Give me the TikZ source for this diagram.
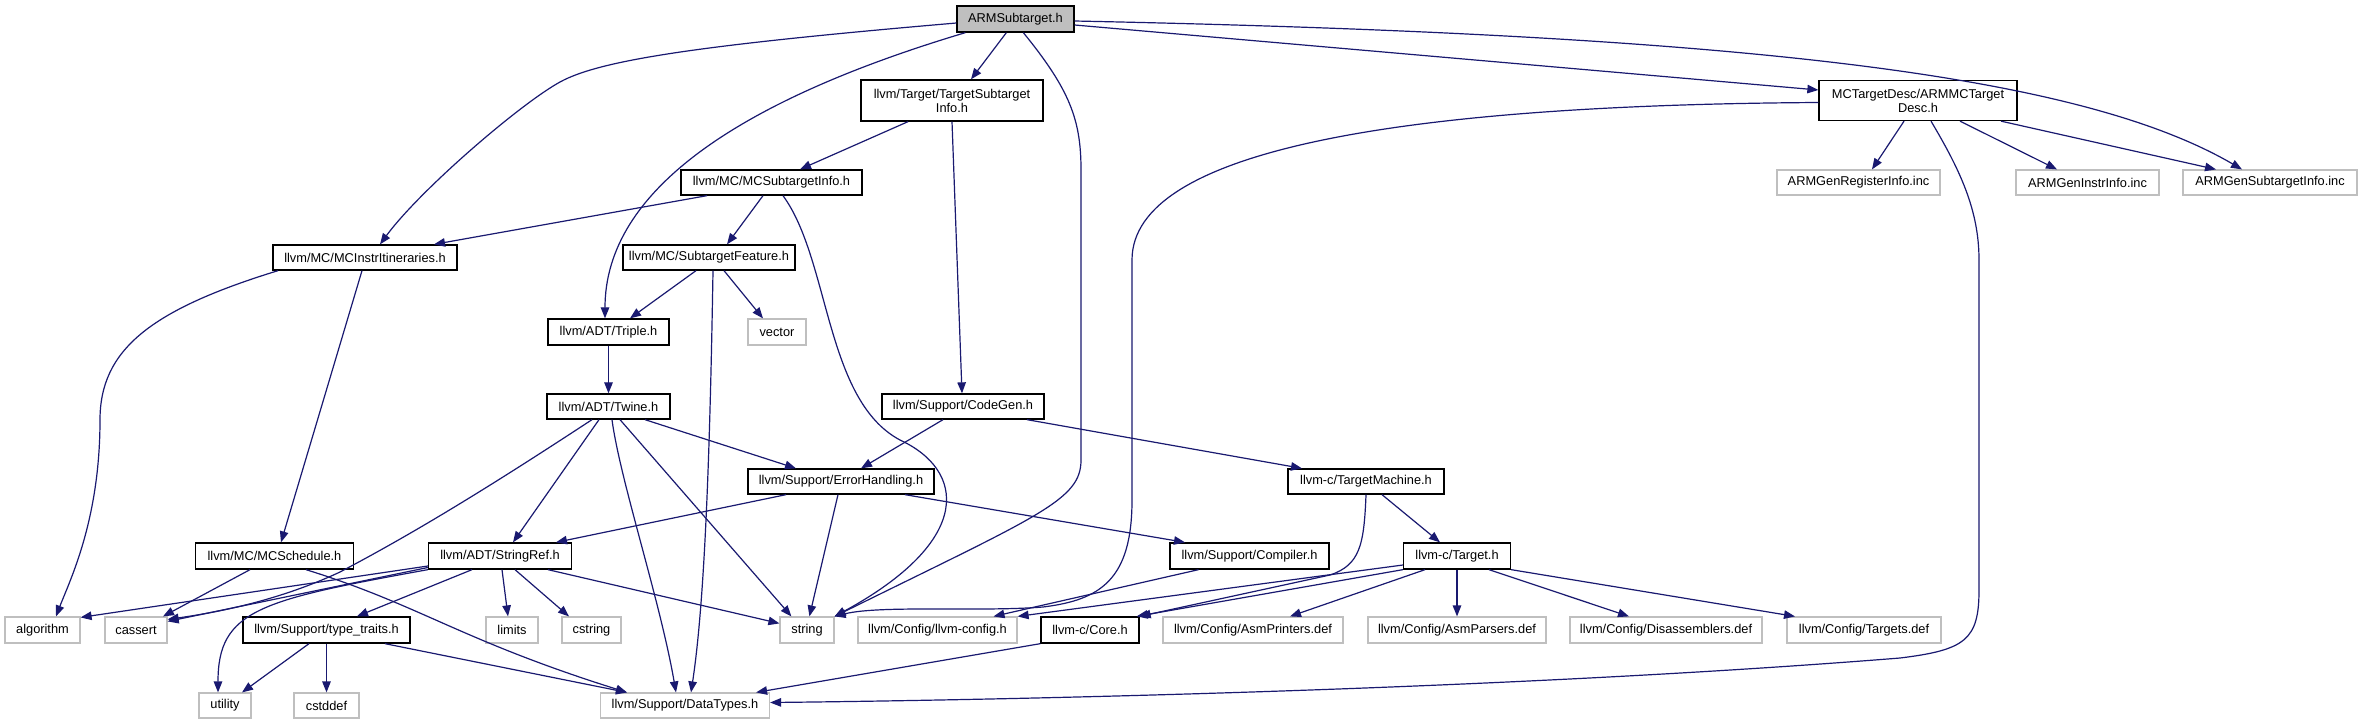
\documentclass[tikz,border=0pt]{standalone}
\usepackage{fontspec}
\setmainfont{Liberation Sans}
\usetikzlibrary{arrows.meta}
\definecolor{edgecol}{HTML}{191970}
\definecolor{sysgray}{HTML}{BFBFBF}
\begin{document}
\begin{tikzpicture}[x=1pt,y=-1pt,
  filebox/.style={draw=black, line width=1.3pt, rectangle, inner sep=0pt, minimum height=25pt, font=\fontsize{12.8}{14}\selectfont, align=center},
  sysfile/.style={filebox, draw=sysgray, line width=1.2pt},
  mainfile/.style={filebox, fill=sysgray},
  dep/.style={draw=edgecol, line width=1.2pt, -{Triangle[length=11pt,width=8.5pt]}}
]
\fill[white] (0,0) rectangle (2363,724);
\useasboundingbox (0,0) rectangle (2363,724);

% row 0
\node[mainfile, minimum width=117pt, minimum height=26pt] (arm) at (1015.5,19) {ARMSubtarget.h};
% row 1
\node[filebox, minimum width=182pt, minimum height=41pt] (tsi) at (952,100.5) {llvm/Target/TargetSubtarget\\Info.h};
\node[filebox, minimum width=198pt, minimum height=40pt] (mcd) at (1918,100.5) {MCTargetDesc/ARMMCTarget\\Desc.h};
% row 2
\node[filebox, minimum width=181pt] (mcsi) at (771.5,182.5) {llvm/MC/MCSubtargetInfo.h};
\node[sysfile, minimum width=163pt] (reg) at (1858.5,182.5) {ARMGenRegisterInfo.inc};
\node[sysfile, minimum width=143pt] (instr) at (2087.5,182.5) {ARMGenInstrInfo.inc};
\node[sysfile, minimum width=174pt] (gsub) at (2270,182.5) {ARMGenSubtargetInfo.inc};
% row 3
\node[filebox, minimum width=184pt] (itin) at (365,257.5) {llvm/MC/MCInstrItineraries.h};
\node[filebox, minimum width=172pt] (feat) at (709,257.5) {llvm/MC/SubtargetFeature.h};
% row 4
\node[filebox, minimum width=121pt, minimum height=26pt] (triple) at (608.5,332) {llvm/ADT/Triple.h};
\node[sysfile, minimum width=58pt, minimum height=26pt] (vector) at (777,332) {vector};
% row 5
\node[filebox, minimum width=123pt] (twine) at (608.5,406.5) {llvm/ADT/Twine.h};
\node[filebox, minimum width=162pt] (codegen) at (963,406.5) {llvm/Support/CodeGen.h};
% row 6
\node[filebox, minimum width=186pt] (err) at (841,481.5) {llvm/Support/ErrorHandling.h};
\node[filebox, minimum width=156pt] (tm) at (1366,481.5) {llvm-c/TargetMachine.h};
% row 7
\node[filebox, minimum width=158pt, minimum height=26pt] (sched) at (274.5,556) {llvm/MC/MCSchedule.h};
\node[filebox, minimum width=143pt, minimum height=26pt] (sref) at (500,556) {llvm/ADT/StringRef.h};
\node[filebox, minimum width=159pt, minimum height=26pt] (comp) at (1249.5,556) {llvm/Support/Compiler.h};
\node[filebox, minimum width=107pt, minimum height=26pt] (target) at (1457,556) {llvm-c/Target.h};
% row 8
\node[sysfile, minimum width=75pt, minimum height=26pt] (algorithm) at (42.5,630) {algorithm};
\node[sysfile, minimum width=62pt, minimum height=26pt] (cassert) at (136,630) {cassert};
\node[filebox, minimum width=167pt, minimum height=26pt] (tt) at (326.5,630) {llvm/Support/type\_traits.h};
\node[sysfile, minimum width=52pt, minimum height=26pt] (limits) at (512,630) {limits};
\node[sysfile, minimum width=59pt, minimum height=26pt] (cstring) at (591.5,630) {cstring};
\node[sysfile, minimum width=54pt, minimum height=26pt] (string) at (807,630) {string};
\node[sysfile, minimum width=159pt, minimum height=26pt] (cfg) at (937.5,630) {llvm/Config/llvm-config.h};
\node[filebox, minimum width=98pt, minimum height=26pt] (core) at (1090,630) {llvm-c/Core.h};
\node[sysfile, minimum width=180pt, minimum height=26pt] (asmp) at (1253,630) {llvm/Config/AsmPrinters.def};
\node[sysfile, minimum width=178pt, minimum height=26pt] (asmpa) at (1457,630) {llvm/Config/AsmParsers.def};
\node[sysfile, minimum width=192pt, minimum height=26pt] (dis) at (1666,630) {llvm/Config/Disassemblers.def};
\node[sysfile, minimum width=154pt, minimum height=26pt] (tdef) at (1864,630) {llvm/Config/Targets.def};
% row 9
\node[sysfile, minimum width=52pt] (utility) at (225,705.5) {utility};
\node[sysfile, minimum width=65pt] (cstddef) at (326.5,705.5) {cstddef};
\node[sysfile, minimum width=169pt] (dt) at (685,705.5) {llvm/Support/DataTypes.h};

% edges from ARMSubtarget.h
\draw[dep] ([yshift=-4pt]arm.west) .. controls (700,45) and (600,60) .. (560,82) .. controls (520,104) and (420,190) .. ([xshift=15pt]itin.north);
\draw[dep] ([xshift=9pt]arm.south west) .. controls (740,100) and (605,190) .. ([xshift=-3.5pt]triple.north);
\draw[dep] ([xshift=50pt]arm.south west) -- ([xshift=19pt]tsi.north);
\draw[dep] ([xshift=67pt]arm.south west) .. controls (1070,90) and (1081,120) .. (1081,170) -- (1081,460) .. controls (1081,500) and (1040,515) .. (string.north east);
\draw[dep] ([yshift=-6pt]arm.east) -- ([yshift=10.5pt]mcd.west);
\draw[dep] ([yshift=-2pt]arm.east) .. controls (1750,35) and (2080,75) .. ([xshift=-28pt]gsub.north);

% TargetSubtargetInfo.h
\draw[dep] ([xshift=-44pt]tsi.south) -- ([xshift=28.5pt]mcsi.north);
\draw[dep] (tsi.south) -- ([xshift=-1pt]codegen.north);

% MCTargetDesc
\draw[dep] ([xshift=-14pt]mcd.south) -- ([xshift=13.5pt]reg.north);
\draw[dep] ([xshift=42pt]mcd.south) -- ([xshift=-30.5pt]instr.north);
\draw[dep] ([xshift=83pt]mcd.south) -- ([xshift=-54pt]gsub.north);
\draw[dep] ([xshift=13pt]mcd.south) .. controls (1960,170) and (1979,210) .. (1979,260) -- (1979,590) .. controls (1979,640) and (1965,650) .. (1900,658) .. controls (1500,690) and (1000,700) .. ([yshift=3pt]dt.east);
\draw[dep] ([yshift=-2pt]mcd.west) .. controls (1400,105) and (1132,150) .. (1132,260) -- (1132,500) .. controls (1132,580) and (1100,600) .. (1043,607) .. controls (980,612) and (880,605) .. (string.north east);

% MCSubtargetInfo.h
\draw[dep] ([xshift=-64.5pt]mcsi.south) -- ([xshift=69pt]itin.north);
\draw[dep] ([xshift=-8.5pt]mcsi.south) -- ([xshift=18pt]feat.north);
\draw[dep] ([xshift=11.5pt]mcsi.south) .. controls (830,260) and (825,400) .. (900,440) .. controls (965,470) and (975,540) .. (string.north east);

% MCInstrItineraries.h
\draw[dep] ([xshift=-87pt]itin.south) .. controls (150,310) and (100,350) .. (100,420) .. controls (100,520) and (70,580) .. ([xshift=13.5pt]algorithm.north);
\draw[dep] ([xshift=-3pt]itin.south) -- ([xshift=6.5pt]sched.north);

% SubtargetFeature.h
\draw[dep] ([xshift=-13pt]feat.south) -- ([xshift=21.5pt]triple.north);
\draw[dep] ([xshift=15pt]feat.south) -- ([xshift=-14pt]vector.north);
\draw[dep] ([xshift=4pt]feat.south) .. controls (710,450) and (705,600) .. ([xshift=6pt]dt.north);

% Triple.h / Twine.h
\draw[dep] (triple.south) -- (twine.north);
\draw[dep] ([xshift=36.5pt]twine.south) -- ([xshift=-45pt]err.north);
\draw[dep] ([xshift=-16.5pt]twine.south) .. controls (500,480) and (420,530) .. (340,572) .. controls (280,600) and (220,612) .. ([yshift=-3pt]cassert.north east);
\draw[dep] ([xshift=-9.5pt]twine.south) -- ([xshift=13pt]sref.north);
\draw[dep] ([xshift=3.5pt]twine.south) .. controls (620,480) and (660,600) .. ([xshift=-9pt]dt.north);
\draw[dep] ([xshift=11.5pt]twine.south) -- ([xshift=12pt]string.north west);

% CodeGen.h
\draw[dep] ([xshift=-20pt]codegen.south) -- ([xshift=20pt]err.north);
\draw[dep] ([xshift=64pt]codegen.south) -- ([xshift=-64pt]tm.north);

% ErrorHandling.h
\draw[dep] ([xshift=-55pt]err.south) -- ([xshift=56pt]sref.north);
\draw[dep] ([xshift=64pt]err.south) -- ([xshift=-64.5pt]comp.north);
\draw[dep] ([xshift=-3pt]err.south) -- ([xshift=30pt]string.north west);

% TargetMachine.h
\draw[dep] (tm.south) .. controls (1364,545) and (1360,565) .. (1330,575) -- (core.north east);
\draw[dep] ([xshift=16pt]tm.south) -- ([xshift=-17pt]target.north);

% Target.h
\draw[dep] (target.south west) -- ([xshift=-3pt]core.north east);
\draw[dep] ([yshift=-9pt]target.west) -- (cfg.north east);
\draw[dep] ([xshift=-32pt]target.south) -- ([xshift=37pt]asmp.north);
\draw[dep] (target.south) -- (asmpa.north);
\draw[dep] ([xshift=32pt]target.south) -- ([xshift=-37pt]dis.north);
\draw[dep] (target.south east) -- ([xshift=-69pt]tdef.north);

% Compiler.h
\draw[dep] ([xshift=-51pt]comp.south) -- ([xshift=56pt]cfg.north);

% Core.h
\draw[dep] (core.south west) -- ([xshift=-14pt]dt.north east);

% MCSchedule.h
\draw[dep] ([xshift=-24.5pt]sched.south) -- ([xshift=27pt]cassert.north);
\draw[dep] ([xshift=31.5pt]sched.south) .. controls (420,605) and (460,640) .. ([xshift=-58pt]dt.north);

% StringRef.h
\draw[dep] ([yshift=-10pt]sref.west) -- ([yshift=-1pt]algorithm.north east);
\draw[dep] ([yshift=-11.5pt]sref.west) -- ([yshift=-5pt]cassert.north east);
\draw[dep] (sref.south west) .. controls (260,600) and (218,610) .. ([xshift=-7pt]utility.north);
\draw[dep] ([xshift=-28pt]sref.south) -- ([xshift=30.5pt]tt.north);
\draw[dep] ([xshift=2pt]sref.south) -- ([xshift=-4pt]limits.north);
\draw[dep] ([xshift=15pt]sref.south) -- ([xshift=-22.5pt]cstring.north);
\draw[dep] ([xshift=48pt]sref.south) -- ([yshift=-7pt]string.north west);

% type_traits.h
\draw[dep] ([xshift=-17.5pt]tt.south) -- ([xshift=17pt]utility.north);
\draw[dep] (tt.south) -- (cstddef.north);
\draw[dep] ([xshift=58.5pt]tt.south) -- ([xshift=-58pt]dt.north);
\end{tikzpicture}
\end{document}
